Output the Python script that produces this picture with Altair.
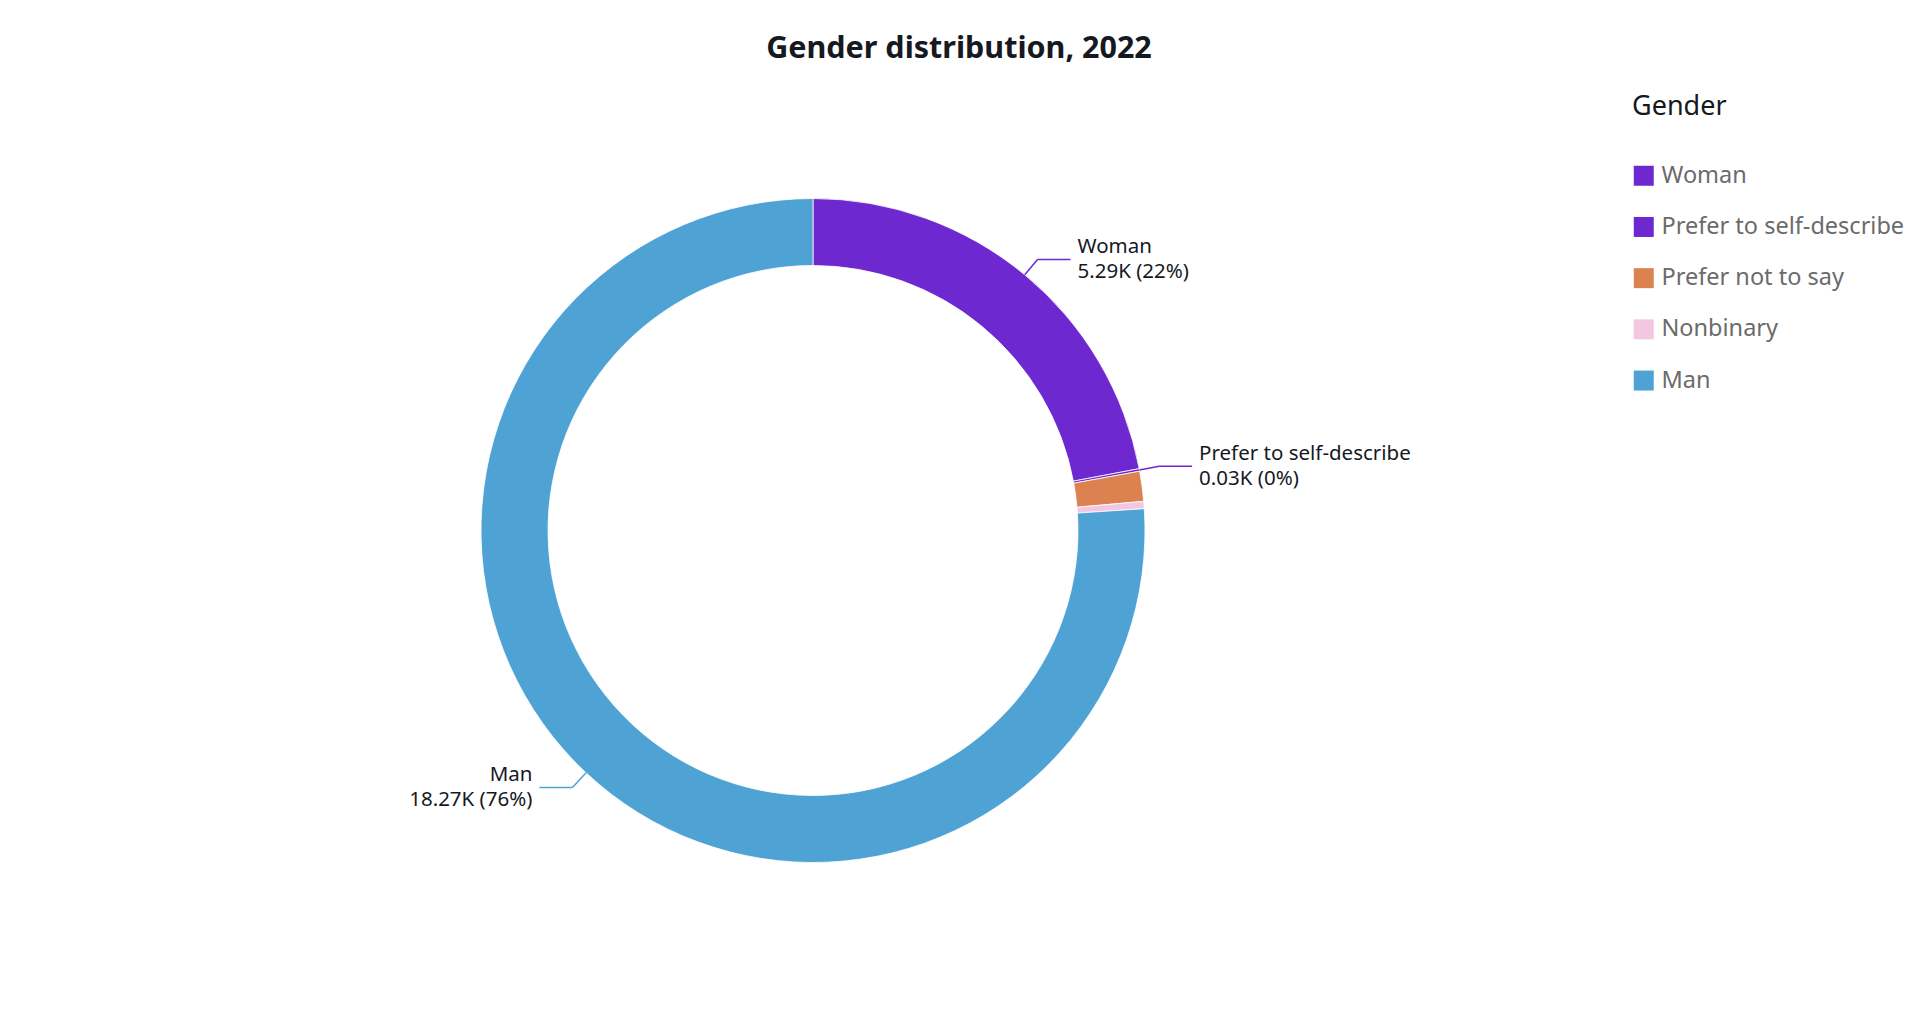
import altair as alt
import pandas as pd

# ---- data ----
genders = ["Woman", "Prefer to self-describe", "Prefer not to say", "Nonbinary", "Man"]
counts = [5290, 30, 350, 85, 18270]
colors = ["#6e28d0", "#6e28d0", "#dc8150", "#f4c6e2", "#4ea2d4"]
labeled = ["Woman", "Prefer to self-describe", "Man"]
title_text = "Gender distribution, 2022"
legend_title = "Gender"

# ---- layout / style constants ----
W, H = 1000, 901
R_OUT, R_IN = 332, 265
ELBOW = 1 + 20 / R_OUT
HLEN = 33 / R_OUT
TGAP = 7 / R_OUT
FONT = "Noto Sans"
LABEL_FS = 20.5
LABEL_LH = 25

df = pd.DataFrame({
    "gender": genders,
    "count": counts,
    "order": list(range(len(genders))),
    "labeled": [g in labeled for g in genders],
})

color_scale = alt.Scale(domain=genders, range=colors)
xs = alt.Scale(domain=[-W / 2 / R_OUT, W / 2 / R_OUT], nice=False, zero=False)
ys = alt.Scale(domain=[-H / 2 / R_OUT, H / 2 / R_OUT], nice=False, zero=False)

arcs = alt.Chart(df).mark_arc(
    outerRadius=R_OUT, innerRadius=R_IN, stroke="white", strokeWidth=0.8
).encode(
    theta=alt.Theta("count:Q", stack=True),
    order=alt.Order("order:Q"),
    color=alt.Color(
        "gender:N", scale=color_scale, sort=genders,
        legend=alt.Legend(
            title=legend_title, orient="none", legendX=1319, legendY=14,
            symbolType="square", symbolSize=400, symbolStrokeWidth=0,
            labelFontSize=23.5, labelColor="#6b6b6b", labelFont=FONT,
            titleFontSize=27, titleColor="#16191f", titleFontWeight="normal",
            titleFont=FONT, titlePadding=43, rowPadding=26.2, labelOffset=6,
            padding=0, labelLimit=400,
        ),
    ),
)

geo = alt.Chart(df).transform_joinaggregate(
    total="sum(count)"
).transform_window(
    cum="sum(count)", sort=[alt.SortField("order")], frame=[None, 0]
).transform_filter(
    "datum.labeled"
).transform_calculate(
    mid="(datum.cum - datum.count / 2) / datum.total * 2 * PI",
).transform_calculate(
    sx="sin(datum.mid)",
    cy="cos(datum.mid)",
).transform_calculate(
    x0="datum.sx",
    y0="datum.cy",
    x1=f"datum.sx * {ELBOW}",
    y1=f"datum.cy * {ELBOW}",
).transform_calculate(
    x2=f"datum.x1 + (datum.sx >= 0 ? {HLEN} : -{HLEN})",
    xt=f"datum.x1 + (datum.sx >= 0 ? {HLEN + TGAP} : -{HLEN + TGAP})",
    label="datum.gender + '|' + format(datum.count / 1000, '.2f') + 'K (' + format(datum.count / datum.total, '.0%') + ')'",
)

line_color = alt.Color("gender:N", scale=color_scale, legend=None)

seg1 = geo.mark_rule(strokeWidth=1.5).encode(
    x=alt.X("x0:Q", scale=xs, axis=None),
    y=alt.Y("y0:Q", scale=ys, axis=None),
    x2="x1:Q",
    y2="y1:Q",
    color=line_color,
)
seg2 = geo.mark_rule(strokeWidth=1.5).encode(
    x=alt.X("x1:Q", scale=xs, axis=None),
    y=alt.Y("y1:Q", scale=ys, axis=None),
    x2="x2:Q",
    y2="y1:Q",
    color=line_color,
)

txt_kw = dict(fontSize=LABEL_FS, font=FONT, color="#16191f", baseline="middle",
              lineBreak="|", lineHeight=LABEL_LH, dy=-LABEL_LH / 2)
txt_right = geo.transform_filter("datum.sx >= 0").mark_text(align="left", **txt_kw).encode(
    x=alt.X("xt:Q", scale=xs, axis=None),
    y=alt.Y("y1:Q", scale=ys, axis=None),
    text="label:N",
)
txt_left = geo.transform_filter("datum.sx < 0").mark_text(align="right", **txt_kw).encode(
    x=alt.X("xt:Q", scale=xs, axis=None),
    y=alt.Y("y1:Q", scale=ys, axis=None),
    text="label:N",
)

chart = alt.layer(arcs, seg1, seg2, txt_right, txt_left).properties(
    width=W,
    height=H,
    title=alt.TitleParams(
        text=title_text, fontSize=30.5, font=FONT, fontWeight="bold",
        color="#16191f", anchor="middle", dx=146, dy=-12,
    ),
    autosize=alt.AutoSizeParams(type="none"),
    padding={"left": 305, "top": 72, "right": 595, "bottom": 5},
).configure(font=FONT).configure_view(strokeWidth=0, stroke="transparent")

chart.save("out.html", embed_options={"renderer": "svg", "actions": False})
